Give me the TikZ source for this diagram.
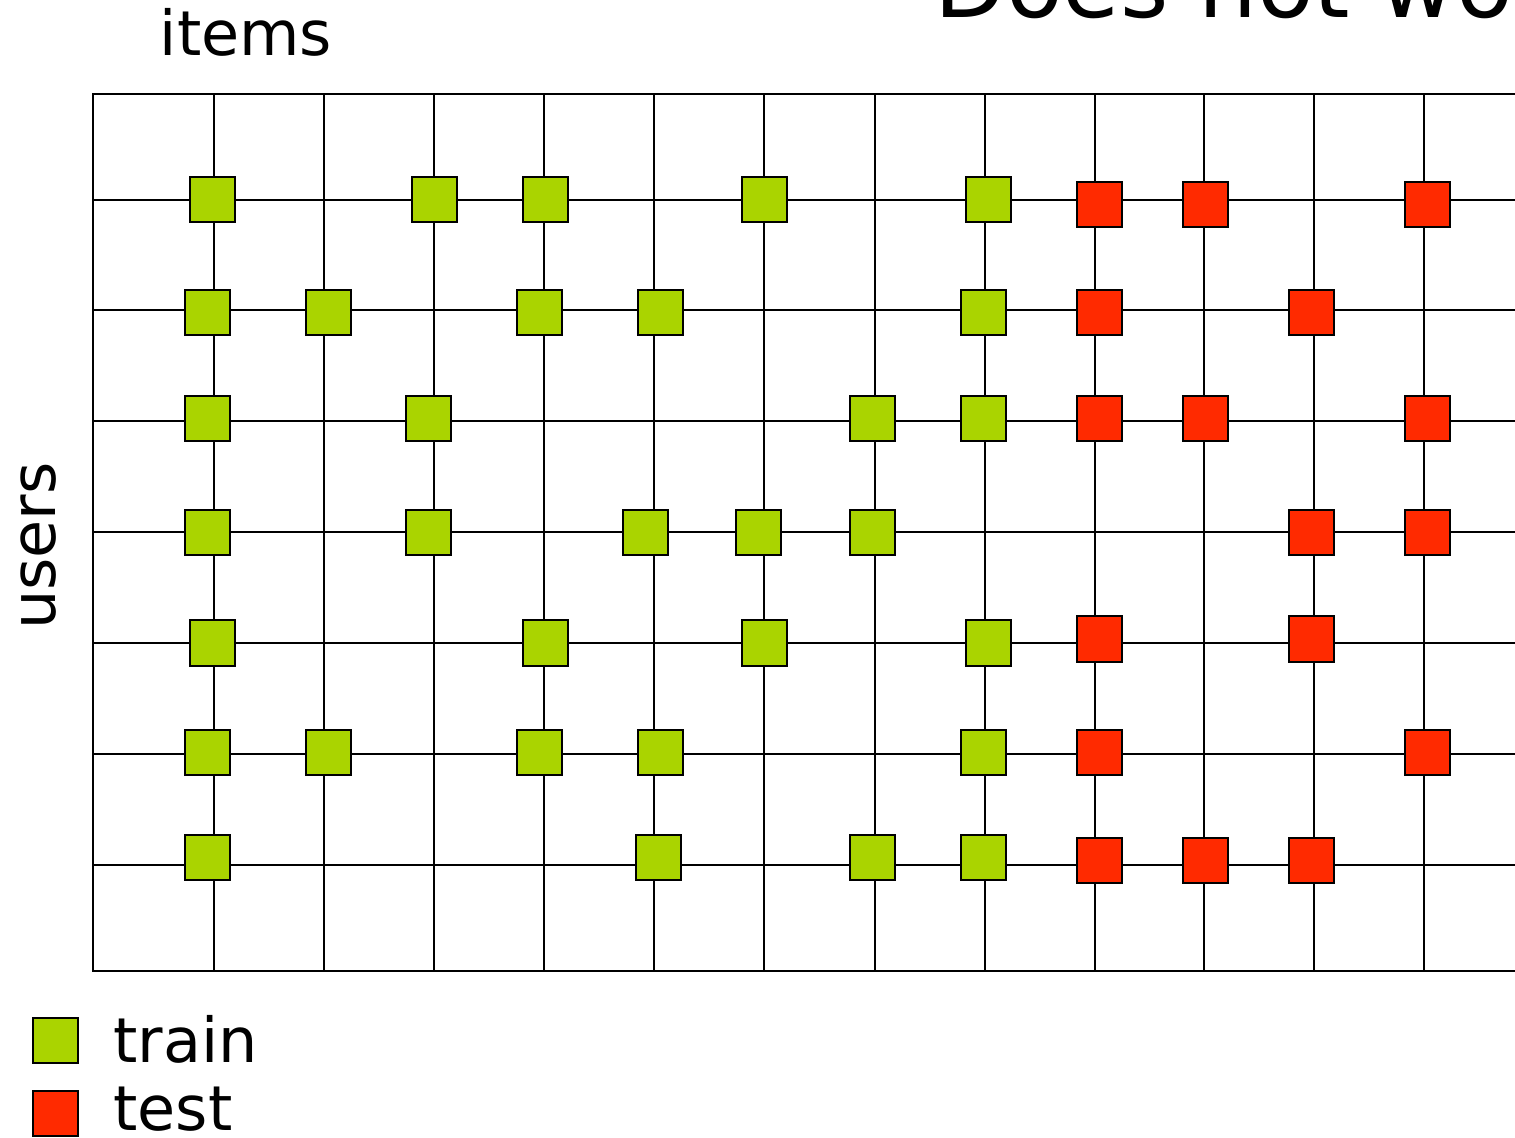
\documentclass[tikz,border=0pt]{standalone}
\usepackage{fontspec}
\setmainfont{DejaVu Sans}
\definecolor{traingreen}{RGB}{170,212,0}
\definecolor{testred}{RGB}{255,42,0}
\begin{document}
\begin{tikzpicture}[x=0.5pt,y=-0.5pt,
  gridline/.style={line width=1.4pt,black},
  cell/.style={draw=black,line width=1pt,minimum size=22.5pt,inner sep=0pt,outer sep=0pt},
  trainbox/.style={cell,fill=traingreen},
  testbox/.style={cell,fill=testred},
  label/.style={font=\fontsize{31}{37}\selectfont,inner sep=0pt}]
\clip (0,0) rectangle (1515,1138);
\fill[white] (0,0) rectangle (1515,1138);

% rating matrix grid
\draw[gridline] (1530,94) -- (93,94) -- (93,971) -- (1530,971);
\foreach \x in {214,324,434,544,654,764,875,985,1095,1204,1314,1424}
  \draw[gridline] (\x,94) -- (\x,971);
\foreach \y in {200,310,421,532,643,754,865}
  \draw[gridline] (93,\y) -- (1530,\y);

% observed ratings used for training
\foreach \x/\y [count=\i] in {
  212/200,434/200,545/200,764/200,988/200,
  207/313,328/313,539/313,660/313,983/313,
  207/419,428/419,872/419,983/419,
  207/533,428/533,645/533,758/533,872/533,
  212/643,545/643,764/643,988/643,
  207/752,328/752,539/752,660/752,983/752,
  207/857,658/857,872/857,983/857}
  \node[trainbox] (tr\i) at (\x,\y) {};

% held-out ratings used for testing
\foreach \x/\y [count=\i] in {
  1099/205,1205/205,1427/205,
  1099/313,1311/313,
  1099/419,1205/419,1427/419,
  1311/533,1427/533,
  1099/639,1311/639,
  1099/752,1427/752,
  1099/860,1205/860,1311/860}
  \node[testbox] (te\i) at (\x,\y) {};

% axis labels and title
\node[label,anchor=base] (items) at (246,56) {items};
\node[label,anchor=base,rotate=90] (users) at (55,546) {users};
\node[font=\fontsize{46.5}{55}\selectfont,inner sep=0pt,anchor=base west] (title) at (934,18) {Does not work};

% legend
\node[trainbox] (legtrain) at (55,1040) {};
\node[label,anchor=base west] (legtraintext) at (113,1062) {train};
\node[testbox] (legtest) at (55,1113) {};
\node[label,anchor=base west] (legtesttext) at (113,1130) {test};
\end{tikzpicture}
\end{document}
